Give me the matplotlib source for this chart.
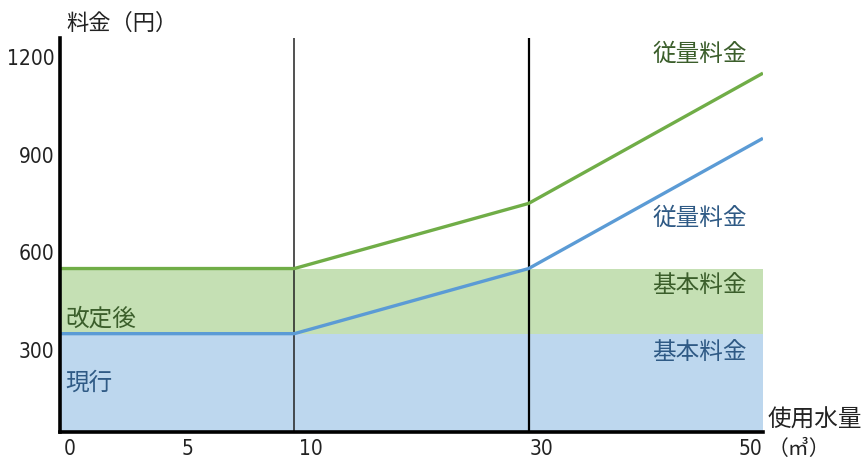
import numpy as np
import matplotlib
matplotlib.use("Agg")
import matplotlib.pyplot as plt
import matplotlib.transforms as mtransforms
from matplotlib import font_manager

plt.rcParams['font.family'] = ['Noto Sans CJK JP', 'DejaVu Sans']

# narrow face for the numbers, if it is there
installed = {f.name for f in font_manager.fontManager.ttflist}
if 'Liberation Sans Narrow' in installed:
    num_font = dict(family='Liberation Sans Narrow', size=18)
else:
    num_font = dict(family='DejaVu Sans', size=15, stretch='condensed')

# -------------------------------------------------
# Data
# -------------------------------------------------
usage = [0, 10, 30, 50]                 # m3
fee_current = [350, 350, 550, 950]      # 現行
fee_revised = [550, 550, 750, 1150]     # 改定後
base_current = 350
base_revised = 550
x_ticks = [0, 5, 10, 30, 50]
y_ticks = [300, 600, 900, 1200]

# piecewise scale: 0-10, 10-30, 30-50 drawn with equal widths
breaks = [0, 10, 30, 50]
steps = [0, 1, 2, 3]


def fwd(x):
    return np.interp(x, breaks, steps)


def inv(x):
    return np.interp(x, steps, breaks)


# -------------------------------------------------
# Plot
# -------------------------------------------------
fig = plt.figure(figsize=(8.68, 4.61), dpi=100)
ax = fig.add_axes([0.0691, 0.0629, 0.8099, 0.8547])
ax.set_xscale('function', functions=(fwd, inv))
ax.set_xlim(0, 50)
ax.set_ylim(48, 1258)

green_fill = '#c5e0b4'
blue_fill = '#bdd7ee'
green_line = '#70ad47'
blue_line = '#5b9bd5'
green_text = '#3b5e2b'
blue_text = '#2f5a85'

ax.fill_between([0, 50], 0, base_current, color=blue_fill, lw=0, zorder=1)
ax.fill_between([0, 50], base_current, base_revised, color=green_fill, lw=0, zorder=1)

ax.axvline(10, color='#222222', lw=1.1, zorder=2)
ax.axvline(30, color='black', lw=1.6, zorder=2)

ax.plot(usage, fee_revised, color=green_line, lw=2.4, zorder=3,
        solid_capstyle='butt')
ax.plot(usage, fee_current, color=blue_line, lw=2.4, zorder=3,
        solid_capstyle='butt')

for side in ['top', 'right']:
    ax.spines[side].set_visible(False)
for side in ['left', 'bottom']:
    ax.spines[side].set_linewidth(2.6)
    ax.spines[side].set_color('black')
    ax.spines[side].set_zorder(4)

ax.set_yticks(y_ticks)
ax.set_yticklabels([str(v) for v in y_ticks], fontdict=num_font)
ax.set_xticks(x_ticks)
ax.set_xticklabels([str(v) for v in x_ticks], fontdict=num_font)
ax.tick_params(length=0, colors='#222222')
ax.tick_params(axis='y', pad=4)
ax.tick_params(axis='x', pad=5)

# nudge x tick labels like the original
shifts = [10, 10, 17, 13, -13]
for lab, dx in zip(ax.get_xticklabels(), shifts):
    lab.set_transform(lab.get_transform() +
                      mtransforms.ScaledTranslation(dx / 100, 0, fig.dpi_scale_trans))

# -------------------------------------------------
# Annotations
# -------------------------------------------------
fs = 17
ax.text(0.977, 0.957, '従量料金', transform=ax.transAxes, ha='right', va='center',
        fontsize=fs, color=green_text)
ax.text(0.977, 0.543, '従量料金', transform=ax.transAxes, ha='right', va='center',
        fontsize=fs, color=blue_text)
ax.text(0.977, 0.373, '基本料金', transform=ax.transAxes, ha='right', va='center',
        fontsize=fs, color=green_text)
ax.text(0.977, 0.203, '基本料金', transform=ax.transAxes, ha='right', va='center',
        fontsize=fs, color=blue_text)
ax.text(0.008, 0.287, '改定後', transform=ax.transAxes, ha='left', va='center',
        fontsize=fs, color=green_text)
ax.text(0.008, 0.124, '現行', transform=ax.transAxes, ha='left', va='center',
        fontsize=fs, color=blue_text)

fig.text(0.077, 0.950, '料金（円）', ha='left', va='center', fontsize=16, color='#222222')
fig.text(0.884, 0.089, '使用水量', ha='left', va='center', fontsize=17, color='#222222')
fig.text(0.884, 0.026, '（㎥）', ha='left', va='center', fontsize=15, color='#222222')

fig.savefig('out.png', dpi=100)
